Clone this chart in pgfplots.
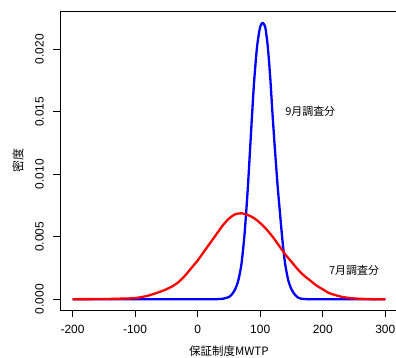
\documentclass[border=0pt]{standalone}
\usepackage{fontspec}
\setmainfont{Liberation Sans}
\newfontfamily\jp{Noto Sans CJK JP}
\usepackage{pgfplots}
\pgfplotsset{compat=1.18}
\usepackage{pgfplotstable}

\pgfplotstableread{
x d
-200 0
-100 0
0 0
20 0
30 0.00001
40 0.00004
45 0.0001
50 0.00018
55 0.0004
60 0.0008
65 0.0015
70 0.0028
75 0.0052
80 0.0087
85 0.0130
90 0.0172
95 0.0202
100 0.0218
104 0.0221
108 0.0218
112 0.0203
116 0.0178
120 0.0146
124 0.0117
128 0.0090
132 0.0067
136 0.0045
140 0.0028
145 0.0015
150 0.0008
155 0.0004
160 0.00015
165 0.00005
175 0.00001
190 0
300 0
}\septdata

\pgfplotstableread{
x d
-200 0.00001
-150 0.00002
-125 0.00005
-110 0.00007
-100 0.0001
-90 0.00017
-80 0.00028
-70 0.00043
-60 0.0006
-50 0.0008
-40 0.00105
-30 0.0014
-20 0.0019
-10 0.0025
0 0.0031
10 0.0038
20 0.0045
30 0.0052
40 0.0059
50 0.00645
60 0.0068
70 0.00688
80 0.00675
90 0.0065
100 0.0061
110 0.0056
120 0.0050
130 0.0043
140 0.0036
150 0.0030
160 0.0024
170 0.0019
180 0.0015
190 0.0011
200 0.0008
210 0.0005
220 0.00034
230 0.0002
240 0.00012
250 0.00007
260 0.00004
280 0.00001
300 0.00001
}\julydata

\begin{document}
\begin{tikzpicture}
\begin{axis}[
  name=ax,
  scale only axis,
  width=337.8bp, height=298.75bp,
  xmin=-220, xmax=320,
  ymin=-0.000885, ymax=0.023015,
  axis line style={black, line width=0.6bp},
  xtick={-200,-100,0,100,200,300},
  xticklabels={-200,-100,0,100,200,300},
  ytick={0,0.005,0.01,0.015,0.02},
  yticklabels={0.000,0.005,0.010,0.015,0.020},
  scaled y ticks=false,
  xtick pos=bottom, ytick pos=left,
  tick align=outside,
  major tick length=6.5bp,
  tick style={black, line width=0.6bp},
  tick label style={font=\fontsize{12}{14}\selectfont},
  xticklabel style={anchor=north, inner sep=0pt},
  yticklabel style={rotate=90, anchor=south, inner sep=0pt},
  xticklabel shift=8.5bp,
  yticklabel shift=9.5bp,
  xlabel={\jp 保証制度MWTP},
  ylabel={\jp 密度},
  xlabel style={font=\fontsize{11.5}{13}\selectfont, at={(axis description cs:0.5,-0.1382)}, anchor=center},
  ylabel style={font=\fontsize{12}{14}\selectfont, at={(axis description cs:-0.1243,0.5)}, anchor=center, rotate=0},
  clip=true,
]
\addplot[blue, line width=2.3bp, smooth, tension=0.4] table[x=x,y=d]{\septdata};
\addplot[red, line width=2.3bp, smooth, tension=0.4] table[x=x,y=d]{\julydata};
\node[font=\jp\fontsize{11}{13}\selectfont] at (axis cs:180,0.015) {9月調査分};
\node[font=\jp\fontsize{11}{13}\selectfont] at (axis cs:250,0.0023) {7月調査分};
\end{axis}
\pgfresetboundingbox
\path[use as bounding box] ([shift={(-60bp,-47.6bp)}]ax.south west) rectangle ([shift={(336bp,310.35bp)}]ax.south west);
\end{tikzpicture}
\end{document}
